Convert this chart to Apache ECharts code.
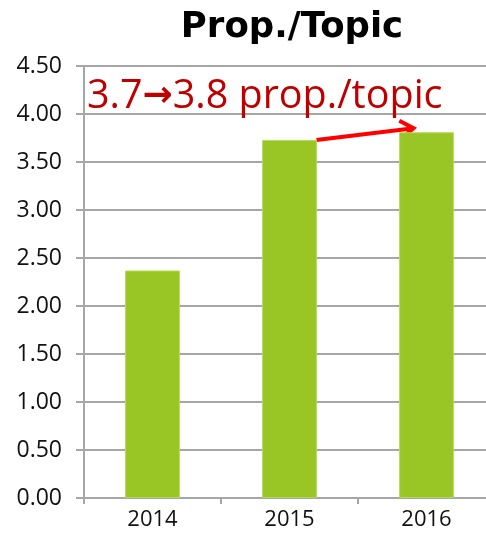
<!DOCTYPE html>
<html>
<head>
<meta charset="utf-8">
<script src="https://cdn.jsdelivr.net/npm/echarts@6/dist/echarts.min.js"></script>
<style>
  html, body { margin: 0; padding: 0; background: #fff; overflow: hidden; }
  #chart { width: 500px; height: 543px; }
</style>
</head>
<body>
<div id="chart"></div>
<script>
// data
var years = ['2014', '2015', '2016'];
var propPerTopic = [2.37, 3.73, 3.81];
var yTicks = ['0.00', '0.50', '1.00', '1.50', '2.00', '2.50', '3.00', '3.50', '4.00', '4.50'];

// the plot runs past the right edge of the picture, so the canvas is a bit wider
var chart = echarts.init(document.getElementById('chart'));
var gray = '#a6a6a6';

var option = {
  backgroundColor: '#fff',
  animation: false,
  title: {
    text: 'Prop./Topic',
    left: 287,
    top: 5,
    textAlign: 'center',
    textStyle: { fontFamily: 'DejaVu Sans', fontWeight: 'bold', fontSize: 35.5, color: '#000' }
  },
  grid: { left: 84, right: 5, top: 66, bottom: 45 },
  xAxis: {
    type: 'category',
    data: years,
    axisLine: { lineStyle: { color: gray, width: 2 } },
    axisTick: { show: true, length: 6, lineStyle: { color: gray, width: 2 } },
    axisLabel: { color: '#111', fontSize: 22, fontFamily: 'Open Sans', margin: 11 }
  },
  yAxis: {
    type: 'value',
    min: 0,
    max: 4.5,
    interval: 0.5,
    axisLine: { show: true, lineStyle: { color: gray, width: 2 } },
    axisTick: { show: true, length: 8, lineStyle: { color: gray, width: 2 } },
    splitLine: { lineStyle: { color: gray, width: 2 } },
    axisLabel: {
      color: '#111', fontSize: 23, fontFamily: 'Open Sans', margin: 22,
      formatter: function (v) { return yTicks[Math.round(v / 0.5)]; }
    }
  },
  series: [{
    type: 'bar',
    data: propPerTopic,
    barWidth: '40%',
    itemStyle: { color: '#99c624', borderColor: '#b5da5a', borderWidth: 1 }
  }]
};
chart.setOption(option);

// annotation arrow from top-right of the 2015 bar toward the 2016 bar
var p15 = chart.convertToPixel({ seriesIndex: 0 }, [1, propPerTopic[1]]);
var p16 = chart.convertToPixel({ seriesIndex: 0 }, [2, propPerTopic[2]]);
var halfBar = 27;
var x1 = p15[0] + halfBar, y1 = p15[1];
var x2 = p16[0] - 13, y2 = p16[1] - 4;
var ang = Math.atan2(y2 - y1, x2 - x1);
var hl = 16, ha = 0.6;

chart.setOption({
  graphic: [
    {
      type: 'text',
      left: 87,
      top: 77,
      style: {
        text: '{a|3.7}{b|\u2192}{a|3.8 prop./topic}',
        rich: {
          a: { fill: '#c00000', fontFamily: 'Open Sans', fontSize: 39.5, lineHeight: 42 },
          b: { fill: '#c00000', fontFamily: 'DejaVu Sans', fontWeight: 'bold', fontSize: 36, lineHeight: 42 }
        }
      }
    },
    {
      type: 'line',
      shape: { x1: x1, y1: y1, x2: x2, y2: y2 },
      style: { stroke: '#ff0000', lineWidth: 4 }
    },
    {
      type: 'polyline',
      shape: {
        points: [
          [x2 - hl * Math.cos(ang - ha), y2 - hl * Math.sin(ang - ha)],
          [x2, y2],
          [x2 - hl * Math.cos(ang + ha), y2 - hl * Math.sin(ang + ha)]
        ]
      },
      style: { stroke: '#ff0000', lineWidth: 4, fill: null }
    }
  ]
});
</script>
</body>
</html>
